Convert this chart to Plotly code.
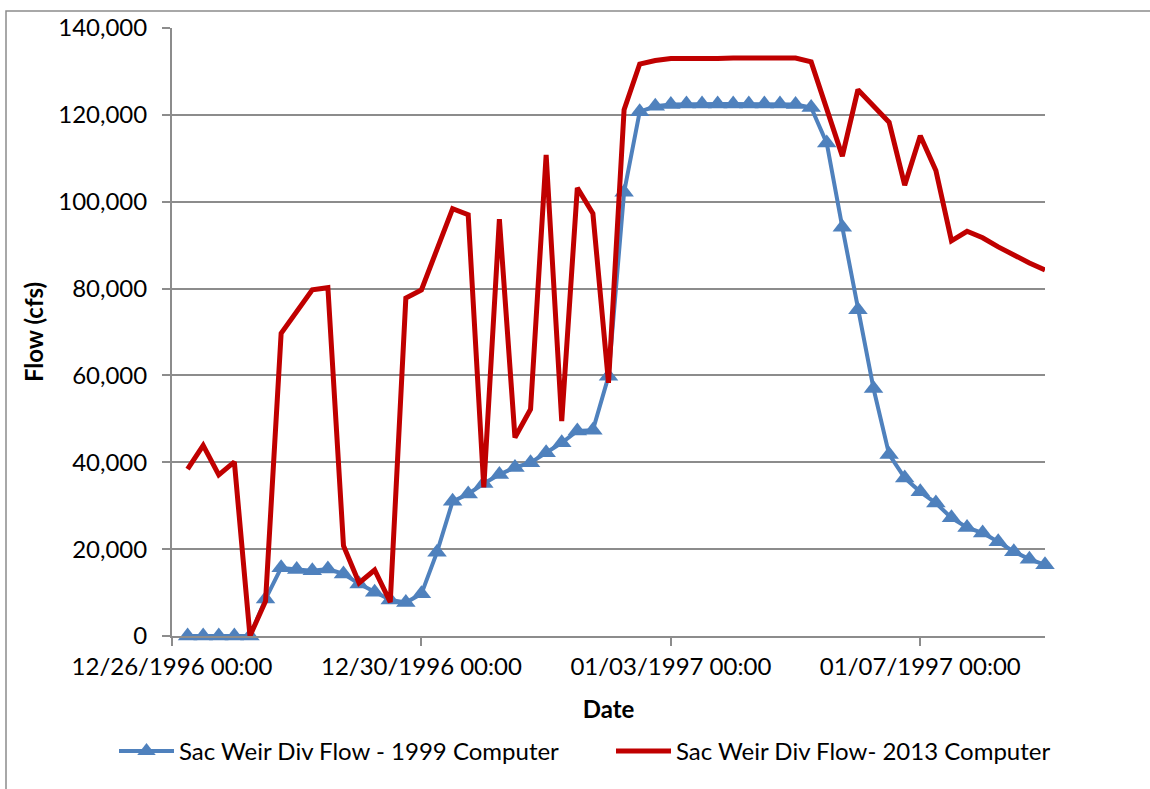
import plotly.graph_objects as go
import pandas as pd

# 6-hourly timestamps, 12/26/1996 06:00 .. 01/09/1997 00:00
times = pd.date_range("1996-12-26 06:00", periods=56, freq="6h")

flow_1999 = [
    0, 0, 0, 0, 0, 8500, 15700, 15300, 15000, 15400,
    14300, 12000, 10100, 8300, 7700, 9700, 19300, 31000, 32700, 35100,
    37200, 38800, 39900, 42200, 44500, 47200, 47400, 59800, 102200, 120700,
    122000, 122400, 122500, 122500, 122500, 122500, 122500, 122500, 122500, 122400,
    121700, 113500, 94100, 75100, 57000, 41800, 36400, 33200, 30600, 27200,
    25000, 23700, 21700, 19400, 17700, 16400,
]

flow_2013 = [
    38400, 43900, 37100, 40100, 0, 8000, 69700, 74700, 79700, 80200,
    20800, 12200, 15200, 7800, 77800, 79700, 88900, 98400, 97000, 34200,
    96000, 45700, 52200, 110800, 49500, 103200, 97300, 58300, 121200, 131700,
    132500, 133000, 133000, 132900, 133000, 133100, 133100, 133000, 133100, 133100,
    132200, 121000, 110500, 125800, 122000, 118300, 103800, 115200, 107200, 91000,
    93200, 91700, 89600, 87600, 85900, 84300,
]

tick_dates = ["1996-12-26 00:00", "1996-12-30 00:00", "1997-01-03 00:00", "1997-01-07 00:00"]
tick_labels = ["12/26/1996 00:00", "12/30/1996 00:00", "01/03/1997 00:00", "01/07/1997 00:00"]

series_names = ["Sac Weir Div Flow - 1999 Computer", "Sac Weir Div Flow- 2013 Computer"]

FONT = "Lato"
GRID = "#8c8c8c"

fig = go.Figure()
fig.add_trace(go.Scatter(
    x=times, y=flow_1999, name=series_names[0], mode="lines+markers",
    line=dict(color="#4F81BD", width=4),
    marker=dict(symbol="triangle-up", size=17, color="#4F81BD"),
    cliponaxis=False,
))
fig.add_trace(go.Scatter(
    x=times, y=flow_2013, name=series_names[1], mode="lines",
    line=dict(color="#C00000", width=5),
    cliponaxis=False,
))

W, H = 1150, 789
L, R, T, B = 172, 105, 25, 153
pw, ph = W - L - R, H - T - B

fig.update_layout(
    width=W, height=H,
    margin=dict(l=L, r=R, t=T, b=B, pad=0),
    paper_bgcolor="white", plot_bgcolor="white",
    font=dict(family=FONT, size=24, color="black"),
    showlegend=True,
    legend=dict(
        orientation="h", x=(114 - L) / pw, xanchor="left",
        y=(H - B - 752) / ph, yanchor="middle",
        font=dict(family=FONT, size=24, color="black"),
        itemwidth=55, tracegroupgap=0, entrywidth=427,
        bgcolor="rgba(0,0,0,0)",
    ),
    xaxis=dict(
        type="date",
        range=["1996-12-26 00:00", "1997-01-09 00:00"],
        tickvals=tick_dates, ticktext=tick_labels,
        showgrid=False, zeroline=False,
        showline=True, linecolor=GRID, linewidth=2,
        ticks="outside", ticklen=8, tickcolor=GRID, tickwidth=1.5,
        tickfont=dict(family=FONT, size=24, color="black"),
        title=dict(text="<b>Date</b>", font=dict(family=FONT, size=24, color="black"), standoff=22),
    ),
    yaxis=dict(
        range=[0, 140000], dtick=20000, tickformat=",",
        showgrid=True, gridcolor=GRID, gridwidth=1.5,
        zeroline=False,
        showline=True, linecolor=GRID, linewidth=2,
        ticks="outside", ticklen=8, tickcolor=GRID, tickwidth=1.5,
        ticklabelstandoff=10,
        tickfont=dict(family=FONT, size=24, color="black"),
        title=dict(text="<b>Flow (cfs)</b>", font=dict(family=FONT, size=24, color="black"), standoff=8),
    ),
    shapes=[
        dict(type="rect", xref="paper", yref="paper",
             x0=(6 - L) / pw, x1=(W + 20 - L) / pw,
             y0=(H - B - (H + 20)) / ph, y1=(H - B - 8) / ph,
             line=dict(color="#8c8c8c", width=1.5), fillcolor="rgba(0,0,0,0)", layer="below"),
    ],
)

fig.write_html(
    "out.html",
    config={"displayModeBar": False},
    post_script="document.body.style.margin='0px';document.body.style.overflow='hidden';",
)
